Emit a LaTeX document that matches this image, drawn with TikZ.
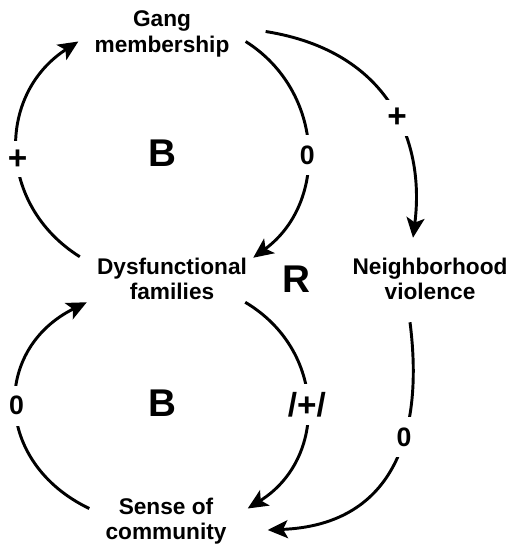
\documentclass[tikz,border=0pt]{standalone}
\usepackage{fontspec}
\setmainfont{Liberation Sans}
\usetikzlibrary{arrows.meta}
\begin{document}
\begin{tikzpicture}[x=0.75pt,y=-0.75pt,
  var/.style={align=center, inner sep=0pt, font=\fontsize{17}{19}\selectfont\bfseries},
  loopname/.style={font=\fontsize{29}{29}\selectfont\bfseries},
  lbl/.style={font=\fontsize{20}{20}\selectfont\bfseries, fill=white, inner xsep=3pt, inner ysep=8pt},
  plbl/.style={lbl, font=\fontsize{25}{25}\selectfont\bfseries, inner ysep=6pt},
  link/.style={line width=2.2pt, -{Stealth[length=15pt,width=13.5pt,inset=3.5pt]}}]
  \useasboundingbox (0,0) rectangle (510,548);

  % variables
  \node[var] (gang)  at (162,34)  {Gang\\membership};
  \node[var] (dys)   at (172,279) {Dysfunctional\\families};
  \node[var] (neigh) at (430,279) {Neighborhood\\violence};
  \node[var] (sense) at (166,521) {Sense of\\community};

  % loop identifiers
  \node[loopname] (b1) at (162,153) {B};
  \node[loopname] (b2) at (162,403) {B};
  \node[loopname] (r)  at (296,279) {R};

  % upper balancing loop
  \draw[link] ([shift={(-17,-1)}]dys.north west)
    .. controls +(-83,-52) and +(-82,53) ..
    node[plbl, pos=0.46] (l1) {+}
    ([shift={(-16,7.5)}]gang.west);
  \draw[link] ([shift={(16,7.5)}]gang.east)
    .. controls +(79,50) and +(75,-55) ..
    node[lbl, pos=0.53] (l2) {0}
    ([shift={(6,0)}]dys.north east);

  % lower balancing loop
  \draw[link] ([shift={(-16,11)}]sense.north west)
    .. controls +(-96,-46) and +(-95,47) ..
    node[lbl, pos=0.5] (l3) {0}
    ([shift={(-10,2)}]dys.south west);
  \draw[link] ([shift={(-2,2)}]dys.south east)
    .. controls +(81,48) and +(80,-50) ..
    node[plbl, pos=0.5] (l4) {/+/}
    ([shift={(21,11)}]sense.north east);

  % outer links through neighborhood violence
  \draw[link] ([shift={(36,-2.5)}]gang.east)
    .. controls +(125,20) and +(12,-95) ..
    node[plbl, pos=0.55] (l5) {+}
    ([shift={(-17,-20)}]neigh.north);
  \draw[link] ([shift={(-20,22)}]neigh.south)
    .. controls +(15,118) and +(122,-5) ..
    node[lbl, pos=0.37] (l6) {0}
    ([shift={(41,9)}]sense.east);
\end{tikzpicture}
\end{document}
